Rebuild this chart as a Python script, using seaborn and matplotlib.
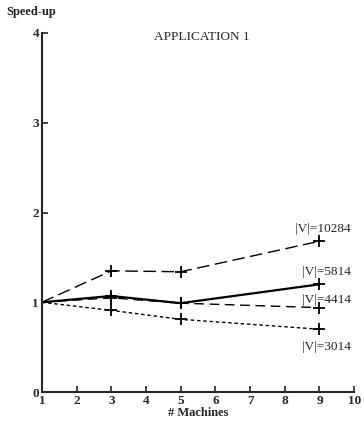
import matplotlib
matplotlib.use("Agg")
import matplotlib.pyplot as plt
import seaborn as sns
import pandas as pd

machines = [1, 3, 5, 9]
s10284 = [1.0, 1.35, 1.34, 1.68]
s5814 = [1.0, 1.07, 0.99, 1.20]
s4414 = [1.0, 1.05, 0.99, 0.94]
s3014 = [1.0, 0.91, 0.81, 0.70]
series_names = ["|V|=10284", "|V|=5814", "|V|=4414", "|V|=3014"]
x_ticks = list(range(1, 11))
y_ticks = [0, 1, 2, 3, 4]

rows = []
for name, vals in zip(series_names, [s10284, s5814, s4414, s3014]):
    for m, v in zip(machines, vals):
        rows.append({"machines": m, "speedup": v, "series": name})
df = pd.DataFrame(rows)

sns.set_style("ticks")
plt.rcParams["font.family"] = ["Liberation Serif", "DejaVu Serif"]

fig = plt.figure(figsize=(3.64, 4.28), dpi=100)
ax = fig.add_axes([0.115, 0.084, 0.858, 0.839])

styles = {
    "|V|=10284": dict(dashes=(9, 4), lw=1.0),
    "|V|=5814": dict(dashes=(None, None), lw=1.6),
    "|V|=4414": dict(dashes=(7, 4), lw=1.0),
    "|V|=3014": dict(dashes=(2.5, 2), lw=1.0),
}
for name in series_names:
    sub = df[df.series == name]
    st = styles[name]
    sns.lineplot(data=sub, x="machines", y="speedup", ax=ax, color="black",
                 marker="+", markersize=8, markeredgewidth=1.3,
                 markeredgecolor="black", lw=st["lw"], dashes=False)
    line = ax.lines[-1]
    if st["dashes"][0] is not None:
        line.set_dashes(st["dashes"])

label_pos = {
    "|V|=10284": (9.9, 1.82),
    "|V|=5814": (9.9, 1.34),
    "|V|=4414": (9.9, 1.02),
    "|V|=3014": (9.9, 0.50),
}
for name in series_names:
    x, y = label_pos[name]
    ax.text(x, y, name, ha="right", va="center", fontsize=9.5)

ax.set_xlim(1, 10)
ax.set_ylim(0, 4)
ax.set_xticks(x_ticks)
ax.set_yticks(y_ticks)
ax.tick_params(direction="in", length=4, width=1.2, labelsize=9.5, pad=2)
for lab in ax.get_xticklabels() + ax.get_yticklabels():
    lab.set_fontweight("bold")
ax.spines["top"].set_visible(False)
ax.spines["right"].set_visible(False)
ax.spines["left"].set_linewidth(1.5)
ax.spines["bottom"].set_linewidth(1.5)
ax.set_xlabel("# Machines", fontsize=9, fontweight="bold", labelpad=0)
ax.set_ylabel("")
ax.text(5.6, 3.95, "APPLICATION 1", ha="center", va="center", fontsize=9.5)
fig.text(0.017, 0.972, "Speed-up", ha="left", va="center", fontsize=9, fontweight="bold")

fig.savefig("out.png", dpi=100)
